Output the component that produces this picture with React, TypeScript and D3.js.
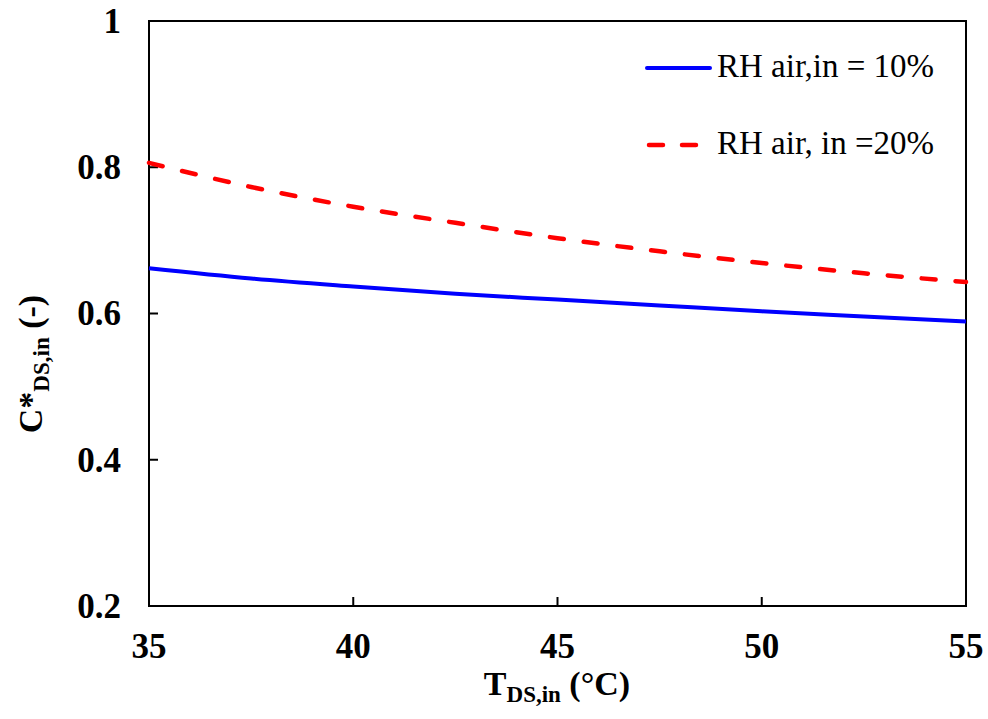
import React, { useEffect, useRef } from "react";
import * as d3 from "d3";

const temps = [35, 37.5, 40, 42.5, 45, 47.5, 50, 52.5, 55];
const rh10 = [0.662, 0.648, 0.637, 0.627, 0.619, 0.611, 0.603, 0.596, 0.589];
const rh20 = [0.806, 0.773, 0.746, 0.724, 0.703, 0.685, 0.669, 0.655, 0.643];
const xTicks = [35, 40, 45, 50, 55];
const yTicks = [0.2, 0.4, 0.6, 0.8, 1];
const seriesNames = ["RH air,in = 10%", "RH air, in =20%"];

export default function App() {
  const ref = useRef<SVGSVGElement>(null);

  useEffect(() => {
    const svg = d3.select(ref.current);
    svg.selectAll("*").remove();

    const left = 149, right = 966, top = 21, bottom = 606;
    const font = "'Liberation Serif', 'Times New Roman', serif";

    const x = d3.scaleLinear().domain([35, 55]).range([left, right]);
    const y = d3.scaleLinear().domain([0.2, 1]).range([bottom, top]);

    // x ticks + labels
    const xa = svg.append("g");
    xTicks.forEach((t) => {
      xa.append("line")
        .attr("x1", x(t)).attr("x2", x(t))
        .attr("y1", bottom).attr("y2", bottom - 9)
        .attr("stroke", "#000").attr("stroke-width", 2);
      xa.append("text")
        .attr("x", x(t)).attr("y", 658)
        .attr("text-anchor", "middle")
        .attr("font-family", font).attr("font-weight", "bold")
        .attr("font-size", 35)
        .text(t);
    });

    // y ticks + labels
    const ya = svg.append("g");
    yTicks.forEach((t) => {
      ya.append("line")
        .attr("x1", left).attr("x2", left + 9)
        .attr("y1", y(t)).attr("y2", y(t))
        .attr("stroke", "#000").attr("stroke-width", 2);
      ya.append("text")
        .attr("x", 121).attr("y", y(t))
        .attr("dy", "0.34em")
        .attr("text-anchor", "end")
        .attr("font-family", font).attr("font-weight", "bold")
        .attr("font-size", 35)
        .text(d3.format("")(t));
    });

    // plot frame
    svg.append("rect")
      .attr("x", left).attr("y", top)
      .attr("width", right - left).attr("height", bottom - top)
      .attr("fill", "none").attr("stroke", "#000").attr("stroke-width", 2);

    const line = d3
      .line<number>()
      .x((d, i) => x(temps[i]))
      .y((d) => y(d))
      .curve(d3.curveMonotoneX);

    svg.append("path")
      .datum(rh10)
      .attr("d", line)
      .attr("fill", "none")
      .attr("stroke", "#0000ff")
      .attr("stroke-width", 4);

    svg.append("path")
      .datum(rh20)
      .attr("d", line)
      .attr("fill", "none")
      .attr("stroke", "#ff0000")
      .attr("stroke-width", 4.5)
      .attr("stroke-linecap", "round")
      .attr("stroke-dasharray", "14,20");

    // legend
    const lg = svg.append("g");
    lg.append("line")
      .attr("x1", 647).attr("x2", 710).attr("y1", 68).attr("y2", 68)
      .attr("stroke", "#0000ff").attr("stroke-width", 4)
      .attr("stroke-linecap", "round");
    lg.append("line")
      .attr("x1", 649).attr("x2", 700).attr("y1", 145).attr("y2", 145)
      .attr("stroke", "#ff0000").attr("stroke-width", 4.5)
      .attr("stroke-linecap", "round")
      .attr("stroke-dasharray", "14,19");
    lg.append("text")
      .attr("x", 717).attr("y", 77)
      .attr("font-family", font).attr("font-size", 33)
      .text(seriesNames[0]);
    lg.append("text")
      .attr("x", 717).attr("y", 154)
      .attr("font-family", font).attr("font-size", 33)
      .text(seriesNames[1]);

    // x axis title
    const xt = svg.append("text")
      .attr("x", 557).attr("y", 695)
      .attr("text-anchor", "middle")
      .attr("font-family", font).attr("font-weight", "bold")
      .attr("font-size", 34);
    xt.append("tspan").text("T");
    xt.append("tspan").attr("font-size", 23).attr("dy", 7).text("DS,in");
    xt.append("tspan").attr("dy", -7).text(" (°C)");

    // y axis title
    const yt = svg.append("text")
      .attr("transform", "translate(42,364) rotate(-90)")
      .attr("text-anchor", "middle")
      .attr("font-family", font).attr("font-weight", "bold")
      .attr("font-size", 34);
    yt.append("tspan").text("C*");
    yt.append("tspan").attr("font-size", 23).attr("dy", 7).text("DS,in");
    yt.append("tspan").attr("dy", -7).text(" (-)");
  }, []);

  return (
    <svg
      ref={ref}
      width={988}
      height={719}
      style={{ position: "absolute", left: 0, top: 0, background: "#fff" }}
    />
  );
}
